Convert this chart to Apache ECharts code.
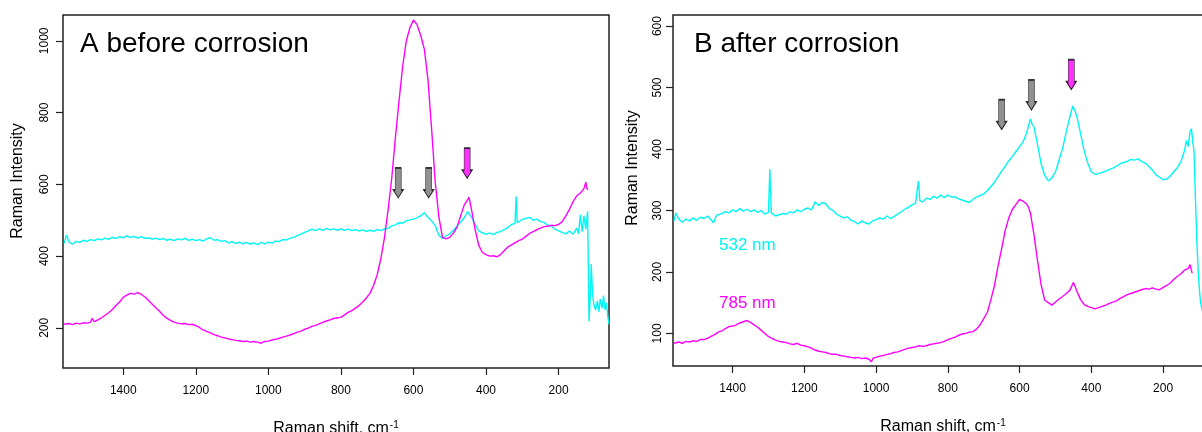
<!DOCTYPE html>
<html>
<head>
<meta charset="utf-8">
<script src="https://cdn.jsdelivr.net/npm/echarts@6/dist/echarts.min.js"></script>
<style>
  html, body { margin: 0; padding: 0; background: #fff; }
  #chart { width: 1202px; height: 432px; }
</style>
</head>
<body>
<div id="chart"></div>
<script>
// ---------- DATA ----------
var ticksX = [200, 400, 600, 800, 1000, 1200, 1400];
var ticksYA = [200, 400, 600, 800, 1000];
var ticksYB = [100, 200, 300, 400, 500, 600];

// Panel A, 532 nm (cyan)
var shiftA532 = [
  1563,1556,1550,1540,1530,1520,1510,1500,1490,1480,
  1470,1460,1450,1440,1430,1420,1410,1400,1390,1380,
  1370,1360,1350,1340,1330,1320,1310,1300,1290,1280,
  1270,1260,1250,1240,1230,1220,1210,1200,1190,1180,
  1170,1160,1150,1140,1130,1120,1110,1100,1090,1080,
  1070,1060,1050,1040,1030,1020,1010,1000,990,980,
  970,960,950,940,930,920,910,900,890,880,
  870,860,850,840,830,820,810,800,790,780,
  770,760,750,740,730,720,710,700,690,680,
  670,660,650,640,630,620,610,600,590,580,
  570,565,560,550,540,530,520,510,500,490,
  480,470,460,450,440,430,420,410,400,390,
  380,370,360,350,340,330,320,317,314,310,
  300,290,280,270,260,250,240,230,220,210,
  200,190,180,170,160,150,145,140,135,130,
  125,120,116,112,110,106,102,98,93,89,
  85,80,76,72,68,64,61
];
var intA532 = [
  435,459,440,433,441,438,444,441,446,443,
  448,445,450,447,452,449,454,451,456,452,
  455,450,454,449,451,447,450,446,449,444,
  447,443,448,445,449,444,447,443,446,442,
  448,451,444,446,441,443,437,440,435,439,
  434,438,433,437,432,438,434,439,436,442,
  440,446,445,450,452,457,461,466,470,475,
  471,476,472,477,473,476,472,476,472,475,
  471,474,470,473,469,472,469,474,471,476,
  477,484,487,493,492,498,501,503,507,512,
  521,514,508,498,485,458,449,456,462,472,
  483,495,507,524,508,489,470,465,461,464,
  460,466,468,474,479,488,491,566,493,497,
  502,505,508,500,503,496,494,486,484,475,
  470,466,462,470,461,478,462,515,468,512,
  475,525,218,300,378,290,262,250,275,245,
  280,255,290,250,270,230,210
];

// Panel A, 785 nm (magenta)
var shiftA785 = [
  1563,1550,1540,1530,1520,1510,1500,1490,1486,1480,
  1470,1460,1450,1440,1430,1420,1410,1400,1390,1380,
  1370,1360,1350,1340,1330,1320,1310,1300,1290,1280,
  1270,1260,1250,1240,1230,1220,1210,1200,1190,1180,
  1170,1160,1150,1140,1130,1120,1110,1100,1090,1080,
  1070,1060,1050,1040,1030,1020,1010,1000,990,980,
  970,960,950,940,930,920,910,900,890,880,
  870,860,850,840,830,820,810,800,790,780,
  770,760,750,740,730,720,710,700,690,680,
  670,660,650,640,630,620,610,600,595,590,
  580,570,560,550,540,530,520,510,500,490,
  480,470,460,450,447,440,430,420,410,400,
  390,380,370,360,350,340,330,320,310,300,
  290,280,270,260,250,240,230,220,210,200,
  190,180,170,160,150,140,130,125,122,119
];
var intA785 = [
  210,212,209,213,211,214,213,216,226,217,
  222,228,235,242,251,262,272,285,291,296,
  294,298,293,286,276,266,256,246,235,227,
  221,216,213,211,212,209,210,206,201,194,
  190,186,181,178,174,172,169,167,165,164,
  162,163,160,162,160,157,162,163,166,168,
  171,174,177,180,184,188,191,196,199,204,
  207,211,215,219,222,226,228,229,236,243,
  248,255,262,272,283,296,318,348,392,451,
  528,615,728,830,927,998,1036,1058,1063,1045,
  1015,977,892,755,606,510,452,448,452,464,
  480,512,542,558,564,530,474,430,410,404,
  400,401,398,404,415,425,431,437,443,447,
  455,463,468,474,478,482,483,486,485,488,
  496,512,530,552,568,576,588,606,589,585
];

// Panel B, 532 nm (cyan)
var shiftB532 = [
  1563,1558,1550,1540,1530,1520,1510,1500,1490,1480,
  1470,1460,1453,1445,1440,1430,1420,1410,1400,1390,
  1380,1370,1360,1350,1340,1330,1320,1310,1300,1296,
  1292,1280,1270,1260,1250,1240,1230,1220,1210,1200,
  1190,1180,1170,1160,1150,1140,1130,1120,1110,1100,
  1090,1080,1070,1060,1050,1040,1030,1020,1010,1000,
  990,980,970,960,950,940,930,920,910,900,
  890,882,878,870,860,850,840,830,820,810,
  800,790,780,770,760,750,740,730,720,710,
  700,690,680,670,660,650,640,630,620,610,
  600,590,580,570,565,560,550,540,530,520,
  510,500,490,480,470,460,452,445,440,430,
  420,410,400,390,380,370,360,350,340,330,
  320,310,300,290,280,270,260,250,240,230,
  220,210,200,190,180,170,160,150,140,135,
  130,125,121,117,114,110,106,102,98,95,
  90,85
];
var intB532 = [
  283,296,286,281,286,283,288,284,289,287,
  291,285,280,292,289,295,298,296,301,298,
  303,299,302,298,301,297,300,294,297,367,
  296,291,293,295,294,298,296,301,298,302,
  304,301,314,308,313,311,303,300,294,291,
  288,290,284,282,278,283,280,278,283,285,
  288,286,291,287,290,294,298,302,305,309,
  312,348,316,314,320,318,323,320,325,321,
  325,322,322,319,317,315,313,318,322,324,
  327,332,339,346,355,364,372,381,388,396,
  404,412,427,449,440,436,407,376,357,348,
  353,363,382,401,428,452,470,461,452,425,
  397,377,363,359,360,362,364,367,369,372,
  376,378,380,383,382,384,380,377,372,366,
  358,354,350,351,356,363,370,380,398,414,
  404,428,433,410,398,320,250,197,165,148,
  135,125
];

// Panel B, 785 nm (magenta)
var shiftB785 = [
  1563,1550,1540,1530,1520,1510,1500,1490,1480,1470,
  1460,1450,1440,1430,1420,1410,1400,1390,1380,1370,
  1360,1350,1340,1330,1320,1310,1300,1290,1280,1270,
  1260,1250,1240,1230,1220,1210,1200,1190,1180,1170,
  1160,1150,1140,1130,1120,1110,1100,1090,1080,1070,
  1060,1050,1040,1030,1020,1013,1008,1000,990,980,
  970,960,950,940,930,920,910,900,890,880,
  870,860,850,840,830,820,810,800,790,780,
  770,760,750,740,730,720,710,700,690,680,
  670,660,650,640,630,620,610,600,595,590,
  580,575,570,560,550,540,530,520,510,500,
  490,480,470,460,450,445,440,430,420,410,
  400,390,380,370,360,350,340,330,320,310,
  300,290,280,270,260,250,240,230,220,210,
  200,190,180,170,160,150,140,130,125,122,
  119
];
var intB785 = [
  84,86,84,87,86,88,87,90,90,92,
  95,98,102,104,108,111,112,114,117,119,
  121,118,114,110,105,100,95,92,89,87,
  86,85,83,82,84,81,80,78,76,73,
  71,70,69,67,66,66,64,63,62,61,
  60,61,59,60,58,54,60,61,63,64,
  66,67,69,70,72,74,76,77,78,80,
  79,80,82,83,84,85,87,90,92,94,
  97,99,100,102,103,107,114,124,134,155,
  178,210,238,268,288,302,310,318,320,315,
  310,305,296,261,218,179,154,150,146,151,
  156,160,165,170,183,176,168,155,147,144,
  142,140,142,144,146,149,151,153,157,160,
  163,165,167,169,171,173,172,174,172,171,
  175,178,182,188,193,197,203,206,212,204,
  198
];

// Arrow markers: [shift, intensity at arrow centre]
var grayArrowsA = [[642, 604], [558, 604]];
var pinkArrowsA = [[452, 659]];
var grayArrowsB = [[650, 456], [567, 488]];
var pinkArrowsB = [[456, 521]];

// ---------- CHART ----------
function zip(xs, ys) {
  var out = [];
  var n = Math.min(xs.length, ys.length);
  for (var i = 0; i < n; i++) out.push([xs[i], ys[i]]);
  return out;
}
function plain(v) { return String(v); }

var FONT = '"Liberation Sans", Arial, Helvetica, sans-serif';
var CYAN = '#00F5F5';
var MAGENTA = '#FF00FF';
var FRAME = '#222';
var ARROW = 'path://M2,0 L8,0 L8,22 L10,22 L5,30 L0,22 L2,22 Z';

function xAxisFor(gi) {
  return {
    gridIndex: gi, type: 'value', inverse: true, min: 61, max: 1566,
    splitLine: { show: false },
    axisLine: { show: false },
    axisTick: { show: true, length: 7, lineStyle: { color: FRAME, width: 1.2 }, customValues: ticksX },
    axisLabel: { color: '#000', fontFamily: FONT, fontSize: 12, margin: 17, customValues: ticksX, formatter: plain },
    name: '{t|Raman shift, cm}{s|-1}',
    nameLocation: 'middle', nameGap: 52,
    nameTextStyle: {
      fontFamily: FONT, color: '#000',
      rich: {
        t: { fontFamily: FONT, fontSize: 16, color: '#000' },
        s: { fontFamily: FONT, fontSize: 10, color: '#000', verticalAlign: 'top', padding: [0, 0, 8, 1] }
      }
    }
  };
}
function yAxisFor(gi, mn, mx, ticks, margin) {
  return {
    gridIndex: gi, type: 'value', min: mn, max: mx,
    splitLine: { show: false },
    axisLine: { show: false },
    axisTick: { show: true, length: 7, lineStyle: { color: FRAME, width: 1.2 }, customValues: ticks },
    axisLabel: { color: '#000', fontFamily: FONT, fontSize: 12, rotate: 90, margin: margin, customValues: ticks, formatter: plain }
  };
}
function line(name, gi, data, color) {
  return {
    name: name, type: 'line', xAxisIndex: gi, yAxisIndex: gi,
    data: data, showSymbol: false, symbol: 'none', animation: false,
    lineStyle: { color: color, width: 1.4 }, z: 2
  };
}
function arrows(gi, data, color) {
  return {
    type: 'scatter', xAxisIndex: gi, yAxisIndex: gi, data: data,
    symbol: ARROW, symbolSize: [10, 30], symbolKeepAspect: false,
    itemStyle: { color: color, borderColor: '#000', borderWidth: 1 },
    animation: false, z: 5, silent: true
  };
}

var chart = echarts.init(document.getElementById('chart'), null, { renderer: 'canvas' });
chart.setOption({
  backgroundColor: '#fff',
  animation: false,
  grid: [
    { left: 63, right: 593, top: 15, bottom: 64, containLabel: false, outerBoundsMode: 'none', show: true, borderColor: FRAME, borderWidth: 1.5, backgroundColor: 'transparent' },
    { left: 673, right: -11, top: 15, bottom: 66, containLabel: false, outerBoundsMode: 'none', show: true, borderColor: FRAME, borderWidth: 1.5, backgroundColor: 'transparent' }
  ],
  xAxis: [xAxisFor(0), xAxisFor(1)],
  yAxis: [yAxisFor(0, 88, 1072, ticksYA, 12), yAxisFor(1, 47, 618, ticksYB, 9)],
  series: [
    line('A 532 nm', 0, zip(shiftA532, intA532), CYAN),
    line('A 785 nm', 0, zip(shiftA785, intA785), MAGENTA),
    line('B 532 nm', 1, zip(shiftB532, intB532), CYAN),
    line('B 785 nm', 1, zip(shiftB785, intB785), MAGENTA),
    arrows(0, grayArrowsA, '#767676'),
    arrows(0, pinkArrowsA, MAGENTA),
    arrows(1, grayArrowsB, '#767676'),
    arrows(1, pinkArrowsB, MAGENTA)
  ],
  graphic: [
    { type: 'text', left: 80, top: 30, style: { text: 'A before corrosion', font: '28px ' + FONT, fill: '#000' } },
    { type: 'text', left: 694, top: 30, style: { text: 'B after corrosion', font: '28px ' + FONT, fill: '#000' } },
    { type: 'text', left: 719, top: 237, style: { text: '532 nm', font: '17px ' + FONT, fill: CYAN } },
    { type: 'text', left: 719, top: 295, style: { text: '785 nm', font: '17px ' + FONT, fill: MAGENTA } },
    { type: 'text', x: 18, y: 181, rotation: Math.PI / 2, style: { text: 'Raman Intensity', font: '16px ' + FONT, fill: '#000', align: 'center', verticalAlign: 'middle' } },
    { type: 'text', x: 633, y: 168, rotation: Math.PI / 2, style: { text: 'Raman Intensity', font: '16px ' + FONT, fill: '#000', align: 'center', verticalAlign: 'middle' } }
  ]
});
</script>
</body>
</html>
